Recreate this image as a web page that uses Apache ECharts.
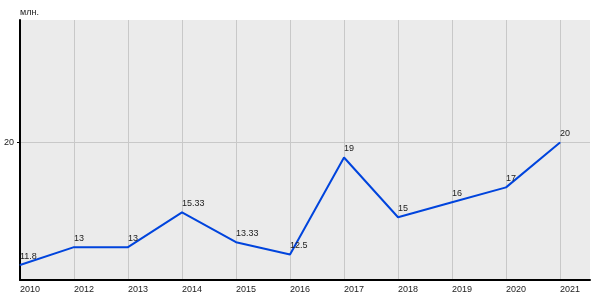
<!DOCTYPE html>
<html>
<head>
<meta charset="utf-8">
<script src="https://cdn.jsdelivr.net/npm/echarts@6/dist/echarts.min.js"></script>
<style>html,body{margin:0;padding:0;background:#fff}#c{width:600px;height:300px}</style>
</head>
<body>
<div id="c"></div>
<script>
const categories = ['2010','2012','2013','2014','2015','2016','2017','2018','2019','2020','2021'];
const values = [11.8, 13, 13, 15.33, 13.33, 12.5, 19, 15, 16, 17, 20];
const valueLabels = ['11.8','13','13','15.33','13.33','12.5','19','15','16','17','20'];
const yTicks = [20];
const unitLabel = 'млн.';

const xTicks = categories.map((c, i) => i);
const FONT = 'Liberation Sans';
const chart = echarts.init(document.getElementById('c'), null, {renderer: 'canvas'});
chart.setOption({
  animation: false,
  title: {text: unitLabel, left: 20, top: 8, padding: 0, textStyle: {fontSize: 9, fontWeight: 'normal', color: '#222', fontFamily: FONT}},
  grid: {left: 20, right: 10, top: 20, bottom: 20, show: true, backgroundColor: '#ebebeb', borderWidth: 0},
  xAxis: {
    type: 'value', min: 0, max: 10.555,
    axisLine: {show: true, onZero: false, lineStyle: {color: '#000', width: 2}},
    axisTick: {show: false, customValues: xTicks},
    axisLabel: {customValues: xTicks, formatter: v => categories[Math.round(v)] || '', align: 'left', margin: 5, fontSize: 9, color: '#222', fontFamily: FONT},
    splitLine: {show: true, lineStyle: {color: '#c8c8c8', width: 1}}
  },
  yAxis: {
    type: 'value', min: 10.8, max: 28.2,
    axisLine: {show: true, onZero: false, lineStyle: {color: '#000', width: 2}},
    axisTick: {show: true, length: 3, customValues: yTicks, lineStyle: {color: '#000'}},
    axisLabel: {customValues: yTicks, margin: 6, fontSize: 9, color: '#222', fontFamily: FONT},
    splitLine: {show: true, lineStyle: {color: '#c8c8c8', width: 1}}
  },
  series: [{
    type: 'line',
    data: values.map((v, i) => [i, v]),
    showSymbol: true, symbol: 'circle', symbolSize: 1,
    itemStyle: {color: '#0044dd'},
    lineStyle: {color: '#0044dd', width: 2},
    label: {show: true, position: 'top', align: 'left', distance: 4, fontSize: 9, color: '#222', fontFamily: FONT,
      formatter: p => valueLabels[p.dataIndex]}
  }]
});
</script>
</body>
</html>
